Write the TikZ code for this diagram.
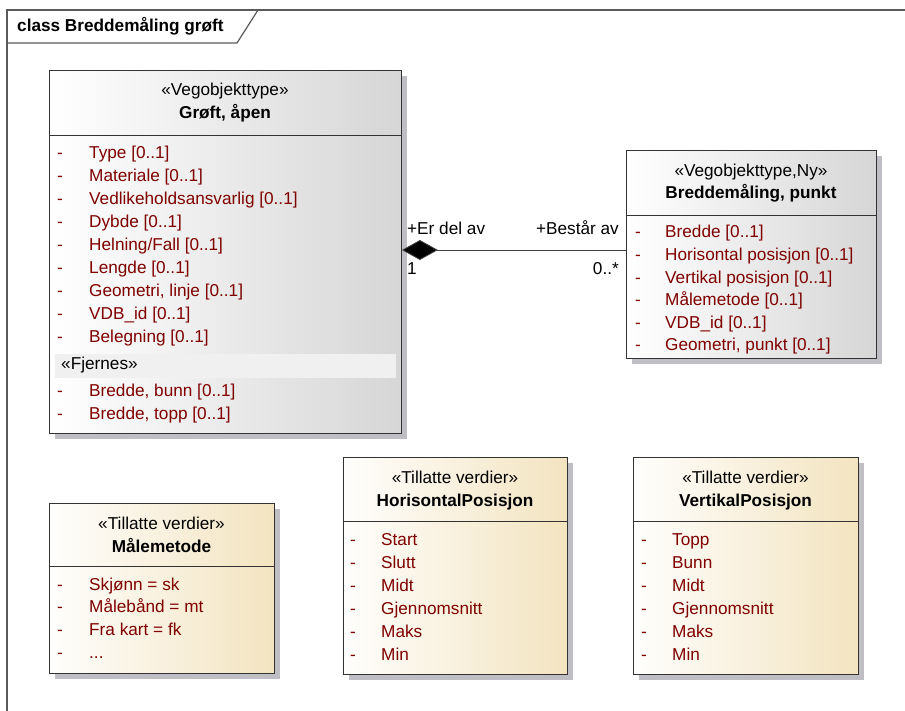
\documentclass[tikz,border=0pt]{standalone}
\usepackage{fontspec}
\setmainfont{Liberation Sans}
\usetikzlibrary{arrows.meta,shadows}

\definecolor{attrred}{RGB}{128,0,0}
\definecolor{framegray}{RGB}{90,90,90}
\definecolor{boxgray}{RGB}{214,214,214}
\definecolor{boxbeige}{RGB}{243,228,192}
\definecolor{shadowgray}{RGB}{190,190,196}
\definecolor{bandgray}{RGB}{240,240,240}

\newcommand{\umlfont}{\fontsize{17.2}{20}\selectfont}

\tikzset{
  umlbox/.style={draw=black!80, line width=0.9pt, inner sep=0pt, anchor=north west,
    drop shadow={shadow xshift=5.5pt, shadow yshift=-5.5pt, fill=shadowgray, opacity=1}},
  objbox/.style={umlbox, left color=white, right color=boxgray},
  enumbox/.style={umlbox, left color=white!96!boxbeige, right color=boxbeige},
  divider/.style={draw=black!80, line width=0.9pt},
  stereo/.style={anchor=base, inner sep=0pt, font=\umlfont},
  cname/.style={anchor=base, inner sep=0pt, font=\umlfont\bfseries},
  attr/.style={anchor=base west, inner sep=0pt, font=\umlfont, text=attrred},
  dashmark/.style={anchor=base west, inner sep=0pt, font=\umlfont, text=attrred},
  rolelabel/.style={inner sep=0pt, font=\umlfont},
  assocline/.style={draw=black!75, line width=0.9pt},
}

\begin{document}
\begin{tikzpicture}[x=1pt, y=-1pt]
\useasboundingbox (0,0) rectangle (905,711);

% diagram frame with title tab
\draw[framegray, line width=1.2pt] (7,711) -- (7,10) -- (905,10);
\draw[framegray, line width=1.2pt] (7,43) -- (237,43) -- (258,10);
\node[anchor=base west, inner sep=0pt, font=\umlfont\bfseries] (frametitle) at (17,32) {class Breddemåling grøft};

% ---------- Grøft, åpen ----------
\node[objbox, minimum width=352pt, minimum height=363pt] (groft) at (49,70) {};
\draw[divider] (49,135) -- (401,135);
\node[stereo] (groftst) at (225,96) {«Vegobjekttype»};
\node[cname] (groftnm) at (225,119) {Grøft, åpen};
\foreach \t [count=\i from 0] in {Type [0..1], Materiale [0..1], Vedlikeholdsansvarlig [0..1], Dybde [0..1], Helning/Fall [0..1], Lengde [0..1], Geometri{,} linje [0..1], VDB\_id [0..1], Belegning [0..1]} {
  \node[dashmark] (gd\i) at (57,159+22.95*\i) {-};
  \node[attr] (ga\i) at (89,159+22.95*\i) {\t};
}
\fill[bandgray] (55,354) rectangle (396,378);
\node[anchor=base west, inner sep=0pt, font=\umlfont] (fjernes) at (61,370) {«Fjernes»};
\node[dashmark] (gfd0) at (57,396) {-};
\node[attr] (gfa0) at (89,396) {Bredde, bunn [0..1]};
\node[dashmark] (gfd1) at (57,419) {-};
\node[attr] (gfa1) at (89,419) {Bredde, topp [0..1]};

% ---------- Breddemåling, punkt ----------
\node[objbox, minimum width=250pt, minimum height=208pt] (bredde) at (626,150) {};
\draw[divider] (626,215) -- (876,215);
\node[stereo] (breddest) at (751,176.5) {«Vegobjekttype,Ny»};
\node[cname] (breddenm) at (751,199) {Breddemåling, punkt};
\foreach \t [count=\i from 0] in {Bredde [0..1], Horisontal posisjon [0..1], Vertikal posisjon [0..1], Målemetode [0..1], VDB\_id [0..1], Geometri{,} punkt [0..1]} {
  \node[dashmark] (bd\i) at (635,238+22.6*\i) {-};
  \node[attr] (ba\i) at (665,238+22.6*\i) {\t};
}

% ---------- composition ----------
\coordinate (assoc) at (0,250);
\draw[assocline, {Diamond[length=36pt, width=20pt, fill=black]}-] (groft.east |- assoc) -- (bredde.west |- assoc);
\node[rolelabel, anchor=base west] (roleA) at (407,235) {+Er del av};
\node[rolelabel, anchor=base east] (roleB) at (619,235) {+Består av};
\node[rolelabel, anchor=base west] (multA) at (407,275) {1};
\node[rolelabel, anchor=base east] (multB) at (619,275) {0..*};

% ---------- Målemetode ----------
\node[enumbox, minimum width=225pt, minimum height=170pt] (maal) at (49,503) {};
\draw[divider] (49,566) -- (274,566);
\node[stereo] (maalst) at (161.5,529) {«Tillatte verdier»};
\node[cname] (maalnm) at (161.5,552) {Målemetode};
\foreach \t [count=\i from 0] in {Skjønn = sk, Målebånd = mt, Fra kart = fk} {
  \node[dashmark] (md\i) at (57,590+22.8*\i) {-};
  \node[attr] (ma\i) at (89,590+22.8*\i) {\t};
}
\node[dashmark] (md3) at (57,658.4) {-};
\node[attr] (ma3) at (89,658.4) {...};

% ---------- HorisontalPosisjon ----------
\node[enumbox, minimum width=224pt, minimum height=217pt] (hor) at (343,457) {};
\draw[divider] (343,521) -- (567,521);
\node[stereo] (horst) at (455,483) {«Tillatte verdier»};
\node[cname] (hornm) at (455,506) {HorisontalPosisjon};
\foreach \t [count=\i from 0] in {Start, Slutt, Midt, Gjennomsnitt, Maks, Min} {
  \node[dashmark] (hd\i) at (350,545+23*\i) {-};
  \node[attr] (ha\i) at (381,545+23*\i) {\t};
}

% ---------- VertikalPosisjon ----------
\node[enumbox, minimum width=225pt, minimum height=217pt] (ver) at (633,457) {};
\draw[divider] (633,521) -- (858,521);
\node[stereo] (verst) at (745.5,483) {«Tillatte verdier»};
\node[cname] (vernm) at (745.5,506) {VertikalPosisjon};
\foreach \t [count=\i from 0] in {Topp, Bunn, Midt, Gjennomsnitt, Maks, Min} {
  \node[dashmark] (vd\i) at (641,545+23*\i) {-};
  \node[attr] (va\i) at (672,545+23*\i) {\t};
}
\end{tikzpicture}
\end{document}
